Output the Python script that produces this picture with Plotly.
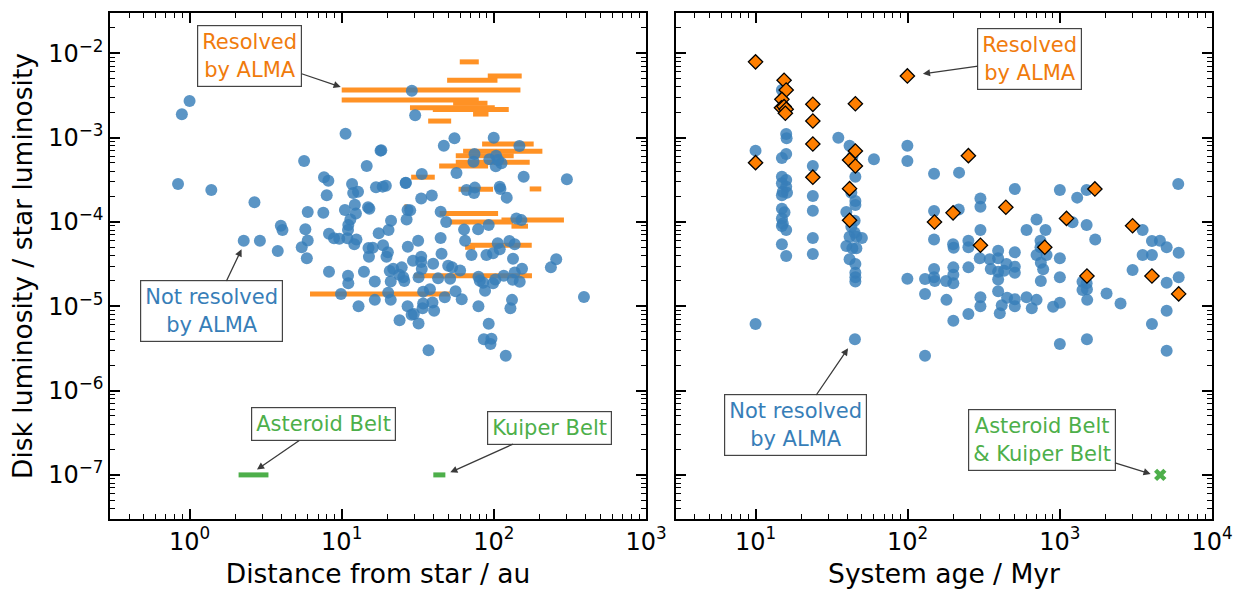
import math
import plotly.graph_objects as go

# ---------------- data ----------------
# Left panel: unresolved disks (distance from star in au, fractional luminosity)
unres_dist_au = [
    1.0, 0.89, 10.6, 18.0, 5.66, 14.6, 0.84, 1.39, 7.65, 8.17,
    11.7, 7.97, 11.9, 12.8, 16.8, 18.6, 19.5, 26.3, 2.67, 12.2,
    5.98, 7.57, 10.5, 12.4, 14.9, 15.2, 27.1, 11.4, 21.1, 26.7,
    3.98, 4.08, 5.77, 11.05, 11.0, 20.3, 17.5, 8.25, 8.9, 9.64,
    10.9, 12.5, 5.98, 2.27, 2.9, 12.1, 18.7, 5.46, 3.8, 15.0,
    16.0, 20.1, 27.2, 5.9, 15.1, 19.7,
    8.25, 11.0, 11.05, 14.0, 16.5, 20.7, 21.8, 24.8, 23.9, 25.4,
    25.8, 21.0, 9.89, 20.2, 21.0, 16.5, 12.9, 24.0, 27.1,
    28.9, 30.4, 55.1, 99.8, 46.9, 147.2, 18.2, 74.6, 73.5, 93.5,
    103.4, 103, 112.2, 106.6, 56.8, 33.6, 157, 302, 26.4,
    66.1, 75.0, 74.1, 109.3, 110.5, 33.3, 39.1, 121.5, 28.2, 44.7,
    48.6, 63.7, 78.8, 92.5, 140.6, 151.7, 31.8, 44.7, 64.7, 106.1,
    109.3, 126.5, 137.1, 33.3, 29.4, 45.3, 71.3, 89.4, 98.8, 133.6,
    257,
    237, 33.3, 33.6, 39.9, 32.0, 43.0, 51.6, 50.1, 53.2, 60.0,
    79.2, 80.8, 87.5, 85.0, 98.8, 102.3, 116.1, 133, 137.1, 147.9,
    153.1, 34.3, 38.0, 47.6, 56.0, 61.5, 28.8, 29.8, 34.0, 34.3,
    39.5, 40.5, 32.0, 79.2, 131.6, 128.5, 92.5, 85.9, 96.4, 95.0,
    37.2, 119.7, 391,
]
unres_dist_lum = [
    2.72e-3, 1.89e-3, 1.11e-3, 7.0e-4, 5.28e-4, 4.6e-4, 2.82e-4, 2.39e-4, 3.39e-4, 3.08e-4,
    2.82e-4, 2.07e-4, 2.2e-4, 2.28e-4, 2.57e-4, 2.62e-4, 2.69e-4, 2.89e-4, 1.71e-4, 1.6e-4,
    1.31e-4, 1.28e-4, 1.38e-4, 1.26e-4, 1.49e-4, 1.43e-4, 1.38e-4, 1.07e-4, 1.03e-4, 1.07e-4,
    9.0e-5, 8.0e-5, 8.2e-5, 9.2e-5, 8.0e-5, 8.0e-5, 7.33e-5, 7.24e-5, 6.38e-5, 6.3e-5,
    6.38e-5, 6.2e-5, 6.0e-5, 5.98e-5, 5.98e-5, 5.42e-5, 5.28e-5, 5.0e-5, 4.52e-5, 4.9e-5,
    4.94e-5, 4.36e-5, 5.08e-5, 3.7e-5, 3.87e-5, 3.87e-5,
    2.56e-5, 2.3e-5, 1.87e-5, 2.56e-5, 1.97e-5, 2.61e-5, 2.78e-5, 2.89e-5, 2.36e-5, 2.2e-5,
    1.99e-5, 1.97e-5, 1.4e-5, 1.45e-5, 1.19e-5, 1.19e-5, 1.0e-5, 6.8e-6, 1.0e-5,
    3.6e-3, 1.84e-3, 9.8e-4, 9.97e-4, 8.0e-4, 7.94e-4, 7.07e-4, 6.4e-4, 5.18e-4, 5.53e-4,
    6.1e-4, 4.57e-4, 4.96e-4, 5.42e-4, 3.8e-4, 3.7e-4, 3.44e-4, 3.2e-4, 2.92e-4,
    2.39e-4, 2.55e-4, 2.2e-4, 2.62e-4, 2.46e-4, 1.9e-4, 2.05e-4, 1.94e-4, 1.37e-4, 1.32e-4,
    9.97e-5, 8.1e-5, 8.2e-5, 9.2e-5, 1.1e-4, 1.05e-4, 5.98e-5, 6.44e-5, 5.98e-5, 5.57e-5,
    4.73e-5, 5.93e-5, 5.42e-5, 3.87e-5, 3.47e-5, 4.2e-5, 4.05e-5, 4.05e-5, 4.25e-5, 3.66e-5,
    3.6e-5,
    2.89e-5, 3.34e-5, 2.76e-5, 3.19e-5, 2.2e-5, 2.14e-5, 2.12e-5, 3.02e-5, 2.89e-5, 2.66e-5,
    2.24e-5, 2.01e-5, 1.53e-5, 1.9e-5, 1.87e-5, 2.08e-5, 2.3e-5, 2.06e-5, 2.52e-5, 1.95e-5,
    2.78e-5, 1.49e-5, 1.59e-5, 1.28e-5, 1.51e-5, 1.21e-5, 7.94e-6, 8.07e-6, 9.44e-6, 1.08e-5,
    1.11e-5, 8.85e-6, 6.26e-6, 1.0e-5, 1.19e-5, 9.44e-6, 6.21e-6, 4.05e-6, 4.11e-6, 3.56e-6,
    3.0e-6, 2.59e-6, 1.29e-5,
]

# Left panel: ALMA-resolved disks (inner / outer radius in au, fractional luminosity)
res_rin_au = [10.0, 10.0, 59.7, 49.3, 91.2, 54.0, 28.1, 39.7, 73.0, 37.0,
              83.7, 62.8, 56.2, 56.2, 43.7, 28.6, 172, 58.6, 25.8, 44.0,
              51.4, 112.2, 130.5, 64.7, 69.8, 29.9, 6.19]
res_rout_au = [149.5, 79.6, 79.6, 105.6, 152.4, 90.8, 101.4, 125.3, 92.2, 52.4,
               182.7, 208.4, 135, 172, 91.6, 40.9, 205, 98.8, 27.0, 106.6,
               133.6, 288.8, 167.6, 75.3, 177.4, 178, 51.4]
res_lum = [3.67e-3, 2.79e-3, 7.9e-3, 4.79e-3, 5.38e-3, 2.55e-3, 2.25e-3, 2.15e-3, 1.9e-3, 1.57e-3,
           8.4e-4, 6.88e-4, 6.1e-4, 5.09e-4, 4.6e-4, 3.39e-4, 2.46e-4, 2.44e-4, 1.51e-4, 1.26e-4,
           1.0e-4, 1.05e-4, 8.9e-5, 5.0e-5, 5.3e-5, 2.3e-5, 1.4e-5]

# Solar system belts
belt_rin_au = [2.1, 40.0]
belt_rout_au = [3.3, 48.0]
belt_lum = [1e-7, 1e-7]
sun_age_myr = [4568]
sun_lum = [1e-7]

# Right panel: unresolved disks (system age in Myr, fractional luminosity)
unres_age_myr = [
    10.0, 14.9, 15.9, 16.0, 15.9, 14.9, 14.9, 15.9, 14.9, 15.9,
    15.1, 16.1, 14.9, 14.9, 15.5, 14.9, 15.1, 15.9, 14.9, 14.9,
    15.9, 23.8, 23.8, 23.8, 23.8, 23.8, 35.0, 41.5, 43.3, 45.3,
    42.6, 45.3, 45.3, 39.5, 44.8, 42.6, 44.8, 41.5, 46.0, 50.0,
    39.5, 43.3, 46.0, 41.5, 60.0, 99.5, 99.5, 149, 217.6, 149,
    149, 198.7, 200.5, 45.3, 45.3, 45.3, 45.3, 10.0, 45.0, 99.5,
    130, 130, 130, 149, 149, 150.6, 178.6, 179.8, 199.5, 199.5,
    199.5, 199.5, 300.6, 300.6, 216.5, 505.8, 1000, 1300, 1500, 6000,
    300.6, 604, 703, 805, 746, 746, 818, 703, 1212, 1500,
    1708, 3500, 4030, 4545, 5035, 6040, 250.6, 250.6, 393, 505.8,
    297.6, 346, 393, 1000, 3500, 4030, 351.6, 446, 505.8, 505.8,
    393, 430, 250.6, 393, 393, 450, 505.8, 505.8, 415, 403,
    300.6, 300.6, 250.6, 604, 703, 654, 750, 777, 750, 1000,
    903, 1000, 1000, 1409, 1500, 1409, 1507, 1513, 1507, 2028,
    2506, 3006, 5035, 6040, 5035, 4030, 5035,
]
unres_age_lum = [
    7.0e-4, 3.67e-3, 1.1e-3, 9.8e-4, 6.4e-4, 5.73e-4, 3.44e-4, 3.14e-4, 2.87e-4, 2.62e-4,
    2.28e-4, 2.22e-4, 2.07e-4, 1.43e-4, 1.3e-4, 1.1e-4, 9.6e-5, 8.0e-5, 8.93e-5, 5.42e-5,
    3.94e-5, 4.6e-4, 2.03e-4, 1.36e-4, 6.44e-5, 4.16e-5, 9.97e-4, 8.0e-4, 5.93e-4, 3.44e-4,
    2.22e-4, 1.77e-4, 1.59e-4, 1.31e-4, 1.03e-4, 8.77e-5, 7.45e-5, 6.67e-5, 6.67e-5, 6.44e-5,
    5.18e-5, 4.86e-5, 4.86e-5, 3.6e-5, 5.53e-4, 8.0e-4, 5.28e-4, 3.73e-4, 3.84e-4, 1.35e-4,
    6.2e-5, 5.42e-5, 4.94e-5, 3.16e-5, 2.5e-5, 2.2e-5, 1.97e-5, 6.15e-6, 4.05e-6, 2.12e-5,
    2.1e-5, 1.4e-5, 2.59e-6, 2.76e-5, 2.2e-5, 1.99e-5, 1.99e-5, 1.19e-5, 2.89e-5, 2.36e-5,
    1.87e-5, 6.73e-6, 1.9e-4, 1.51e-4, 1.4e-4, 2.46e-4, 2.39e-4, 1.94e-4, 2.39e-4, 2.82e-4,
    8.0e-5, 8.0e-5, 1.07e-4, 8.0e-5, 5.98e-5, 5.0e-5, 4.05e-5, 4.05e-5, 9.9e-5, 9.2e-5,
    6.2e-5, 8.0e-5, 5.93e-5, 5.98e-5, 5.0e-5, 4.31e-5, 5.98e-5, 5.0e-5, 4.55e-5, 4.36e-5,
    3.7e-5, 3.6e-5, 3.7e-5, 3.7e-5, 4.05e-5, 4.05e-5, 2.76e-5, 3.16e-5, 2.94e-5, 2.5e-5,
    2.56e-5, 2.64e-5, 2.89e-5, 2.08e-5, 1.51e-5, 1.26e-5, 1.21e-5, 1.0e-5, 1.03e-5, 8.24e-6,
    1.28e-5, 1.0e-5, 8.07e-6, 1.28e-5, 1.19e-5, 9.44e-6, 3.28e-5, 2.74e-5, 1.99e-5, 2.2e-5,
    9.86e-6, 1.1e-5, 3.56e-6, 1.95e-5, 1.87e-5, 1.56e-5, 1.59e-5, 1.19e-5, 4.05e-6, 1.42e-5,
    1.08e-5, 2.69e-5, 1.9e-5, 2.2e-5, 8.85e-6, 6.15e-6, 2.96e-6,
]

# Right panel: resolved disks (system age in Myr, fractional luminosity)
res_age_myr = [10.0, 15.4, 15.9, 14.9, 14.8, 15.4, 15.9, 15.7, 23.8, 23.8,
               45.3, 99.5, 23.8, 10.0, 45.3, 41.5, 45.3, 23.8, 41.5, 41.5,
               150, 198.7, 250.6, 441.6, 300.6, 796, 1106, 1699, 3006, 1507,
               4030, 6040]
res_age_lum = [7.9e-3, 4.79e-3, 3.67e-3, 2.84e-3, 2.26e-3, 2.33e-3, 2.17e-3, 1.94e-3, 2.48e-3, 1.57e-3,
               2.52e-3, 5.38e-3, 8.4e-4, 5.04e-4, 6.94e-4, 5.42e-4, 4.6e-4, 3.39e-4, 2.48e-4, 1.045e-4,
               9.97e-5, 1.28e-4, 6.1e-4, 1.49e-4, 5.28e-5, 5.0e-5, 1.1e-4, 2.46e-4, 9.0e-5, 2.28e-5,
               2.28e-5, 1.4e-5]

assert len(unres_dist_au) == len(unres_dist_lum)
assert len(unres_age_myr) == len(unres_age_lum)
assert len(res_age_myr) == len(res_age_lum)

# Tick labels
y_major = [1e-7, 1e-6, 1e-5, 1e-4, 1e-3, 1e-2]
y_labels = ["10<sup>−7</sup>", "10<sup>−6</sup>", "10<sup>−5</sup>",
            "10<sup>−4</sup>", "10<sup>−3</sup>", "10<sup>−2</sup>"]
x1_major = [1, 10, 100, 1000]
x1_labels = ["10<sup>0</sup>", "10<sup>1</sup>", "10<sup>2</sup>", "10<sup>3</sup>"]
x2_major = [10, 100, 1000, 10000]
x2_labels = ["10<sup>1</sup>", "10<sup>2</sup>", "10<sup>3</sup>", "10<sup>4</sup>"]

# ---------------- styling ----------------
BLUE = "#377eb8"
BLUE_A = "rgba(55,126,184,0.82)"
ORANGE = "#ff7f00"
ORANGE_TXT = "#f07b0c"
GREEN = "#4daf4a"
FONT = "DejaVu Sans"


def minor_vals(k0, k1):
    return [m * 10.0 ** k for k in range(k0, k1) for m in range(2, 10)]


fig = go.Figure()

# resolved disks as radial extent bars
bx, by = [], []
for a, b, l in zip(res_rin_au, res_rout_au, res_lum):
    bx += [a, b, None]
    by += [l, l, None]
fig.add_trace(go.Scatter(x=bx, y=by, mode="lines", xaxis="x", yaxis="y",
                         line=dict(color=ORANGE, width=5), opacity=0.85,
                         hoverinfo="skip", showlegend=False))

fig.add_trace(go.Scatter(x=unres_dist_au, y=unres_dist_lum, mode="markers", xaxis="x", yaxis="y",
                         marker=dict(color=BLUE_A, size=12, line=dict(width=0)),
                         showlegend=False))

gx, gy = [], []
for a, b, l in zip(belt_rin_au, belt_rout_au, belt_lum):
    gx += [a, b, None]
    gy += [l, l, None]
fig.add_trace(go.Scatter(x=gx, y=gy, mode="lines", xaxis="x", yaxis="y",
                         line=dict(color=GREEN, width=5), showlegend=False))

# right panel
fig.add_trace(go.Scatter(x=unres_age_myr, y=unres_age_lum, mode="markers", xaxis="x2", yaxis="y2",
                         marker=dict(color=BLUE_A, size=12, line=dict(width=0)),
                         showlegend=False))
fig.add_trace(go.Scatter(x=res_age_myr, y=res_age_lum, mode="markers", xaxis="x2", yaxis="y2",
                         marker=dict(color=ORANGE, size=11, symbol="diamond",
                                     line=dict(color="black", width=1.3)),
                         showlegend=False))
fig.add_trace(go.Scatter(x=sun_age_myr, y=sun_lum, mode="markers", xaxis="x2", yaxis="y2",
                         marker=dict(color=GREEN, size=11, symbol="x", line=dict(width=0)),
                         showlegend=False))

axis_common = dict(type="log", showgrid=False, zeroline=False, showline=True,
                   linecolor="black", linewidth=1.5, mirror="allticks",
                   ticks="inside", ticklen=10, tickwidth=1.5, tickcolor="black",
                   automargin=False,
                   tickfont=dict(family=FONT, size=24, color="black"))
ymin, ymax = math.log10(3e-8), math.log10(3e-2)
TITLE_SIZE = 26.5

fig.update_layout(
    width=1242, height=590,
    margin=dict(l=110, r=30, t=13, b=71),
    paper_bgcolor="white", plot_bgcolor="white",
    font=dict(family=FONT, color="black"),
    xaxis=dict(axis_common, domain=[0, 0.4864], anchor="y",
               range=[math.log10(0.3), 3],
               tickmode="array", tickvals=x1_major, ticktext=x1_labels,
               minor=dict(ticks="inside", ticklen=5, tickwidth=1, tickcolor="black",
                          tickmode="array", tickvals=minor_vals(-1, 3)),
               title=dict(text="Distance from star / au",
                          font=dict(size=TITLE_SIZE, family=FONT), standoff=10)),
    yaxis=dict(axis_common, domain=[0, 1], anchor="x",
               range=[ymin, ymax],
               tickmode="array", tickvals=y_major, ticktext=y_labels,
               minor=dict(ticks="inside", ticklen=5, tickwidth=1, tickcolor="black",
                          tickmode="array", tickvals=minor_vals(-8, -1)),
               title=dict(text="Disk luminosity / star luminosity",
                          font=dict(size=TITLE_SIZE, family=FONT), standoff=8)),
    xaxis2=dict(axis_common, domain=[0.5136, 1], anchor="y2",
                range=[math.log10(3), 4],
                tickmode="array", tickvals=x2_major, ticktext=x2_labels,
                minor=dict(ticks="inside", ticklen=5, tickwidth=1, tickcolor="black",
                           tickmode="array", tickvals=minor_vals(0, 4)),
                title=dict(text="System age / Myr",
                           font=dict(size=TITLE_SIZE, family=FONT), standoff=10)),
    yaxis2=dict(axis_common, domain=[0, 1], anchor="x2",
                range=[ymin, ymax], showticklabels=False,
                tickmode="array", tickvals=y_major,
                minor=dict(ticks="inside", ticklen=5, tickwidth=1, tickcolor="black",
                           tickmode="array", tickvals=minor_vals(-8, -1))),
)


def note(text, color, xref, yref, xv, yv, ax, ay):
    fig.add_annotation(text=text, xref=xref, yref=yref,
                       x=math.log10(xv), y=math.log10(yv), ax=ax, ay=ay,
                       showarrow=True, arrowhead=2, arrowsize=1.1, arrowwidth=1.3,
                       arrowcolor="#3a3a3a", standoff=1,
                       font=dict(family=FONT, size=21, color=color),
                       bgcolor="white", bordercolor="#444444", borderwidth=1.2,
                       borderpad=4, align="center")


note("Resolved<br>by ALMA", ORANGE_TXT, "x", "y", 10.0, 3.95e-3, -92, -31)
note("Not resolved<br>by ALMA", BLUE, "x", "y", 2.21, 4.86e-5, -30, 63)
note("Asteroid Belt", GREEN, "x", "y", 2.74, 1.14e-7, 67, -46)
note("Kuiper Belt", GREEN, "x", "y", 51.0, 1.06e-7, 100, -45)
note("Resolved<br>by ALMA", ORANGE_TXT, "x2", "y2", 124, 5.68e-3, 108, -15)
note("Not resolved<br>by ALMA", BLUE, "x2", "y2", 40.9, 3.25e-6, -53, 78)
note("Asteroid Belt<br>& Kuiper Belt", GREEN, "x2", "y2", 4010, 1.02e-7, -110, -34)

fig.write_html("out.html")
